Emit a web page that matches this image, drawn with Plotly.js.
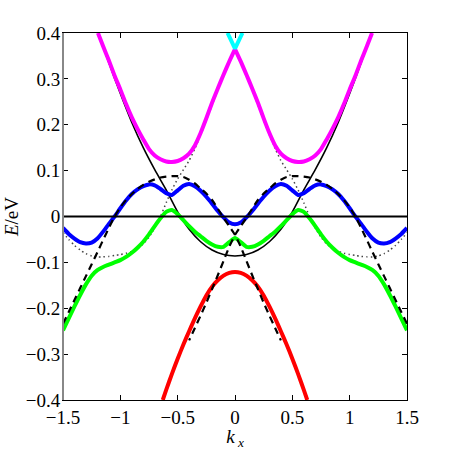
<!DOCTYPE html>
<html>
<head>
<meta charset="utf-8">
<script src="https://cdn.plot.ly/plotly-3.0.1.min.js"></script>
<style>html,body{margin:0;padding:0;background:#fff;}#chart{width:450px;height:450px;}</style>
</head>
<body>
<div id="chart"></div>
<script>
// k grid (kx) used by blue, green, dotted bands
var kGrid = [-1.5,-1.45,-1.4,-1.35,-1.3,-1.25,-1.2,-1.15,-1.1,-1.05,-1.0,-0.95,-0.9,-0.85,-0.8,-0.75,-0.7,-0.65,-0.6,-0.55,-0.5,-0.45,-0.4,-0.35,-0.3,-0.25,-0.2,-0.15,-0.1,-0.05,0,
  0.05,0.1,0.15,0.2,0.25,0.3,0.35,0.4,0.45,0.5,0.55,0.6,0.65,0.7,0.75,0.8,0.85,0.9,0.95,1.0,1.05,1.1,1.15,1.2,1.25,1.3,1.35,1.4,1.45,1.5];

var blueE = [-0.025,-0.038,-0.048,-0.056,-0.059,-0.057,-0.048,-0.033,-0.016,0.000,0.018,0.035,0.049,0.059,0.066,0.070,0.068,0.060,0.051,0.047,0.057,0.067,0.071,0.066,0.056,0.043,0.028,0.012,-0.002,-0.013,-0.017,
  -0.013,-0.002,0.012,0.028,0.043,0.056,0.066,0.071,0.067,0.057,0.047,0.051,0.060,0.068,0.070,0.066,0.059,0.049,0.035,0.018,0.000,-0.016,-0.033,-0.048,-0.057,-0.059,-0.056,-0.048,-0.038,-0.025];

var greenE = [-0.248,-0.222,-0.196,-0.171,-0.148,-0.129,-0.117,-0.110,-0.105,-0.100,-0.095,-0.088,-0.079,-0.068,-0.055,-0.039,-0.021,-0.004,0.010,0.014,0.005,-0.008,-0.021,-0.033,-0.043,-0.053,-0.061,-0.066,-0.066,-0.056,-0.047,
  -0.056,-0.066,-0.066,-0.061,-0.053,-0.043,-0.033,-0.021,-0.008,0.005,0.014,0.010,-0.004,-0.021,-0.039,-0.055,-0.068,-0.079,-0.088,-0.095,-0.100,-0.105,-0.110,-0.117,-0.129,-0.148,-0.171,-0.196,-0.222,-0.248];

var dottedE = [-0.035,-0.050,-0.063,-0.073,-0.081,-0.086,-0.088,-0.088,-0.087,-0.085,-0.083,-0.080,-0.076,-0.070,-0.060,-0.045,-0.025,0.000,0.030,0.058,0.082,0.102,0.122,0.148,0.178,0.210,0.243,0.276,0.308,0.337,0.365,
  0.337,0.308,0.276,0.243,0.210,0.178,0.148,0.122,0.102,0.082,0.058,0.030,0.000,-0.025,-0.045,-0.060,-0.070,-0.076,-0.080,-0.083,-0.085,-0.087,-0.088,-0.088,-0.086,-0.081,-0.073,-0.063,-0.050,-0.035];

// dashed bands (two mirror-image branches)
var dashAk = [-1.5,-1.45,-1.4,-1.35,-1.3,-1.25,-1.2,-1.15,-1.1,-1.05,-1.0,-0.95,-0.9,-0.85,-0.8,-0.75,-0.7,-0.65,-0.6,-0.55,-0.5,-0.45,-0.4,-0.35,-0.3,-0.25,-0.2,-0.15,-0.1,-0.05,0,0.05,0.1,0.15,0.2,0.25,0.3,0.35,0.4];
var dashAE = [-0.234,-0.208,-0.182,-0.156,-0.130,-0.104,-0.078,-0.051,-0.025,0.000,0.020,0.036,0.049,0.060,0.069,0.076,0.081,0.085,0.087,0.088,0.088,0.086,0.080,0.072,0.061,0.050,0.036,0.017,-0.003,-0.021,-0.040,-0.066,-0.097,-0.128,-0.158,-0.188,-0.216,-0.243,-0.270];
var dashBk = [1.5,1.45,1.4,1.35,1.3,1.25,1.2,1.15,1.1,1.05,1.0,0.95,0.9,0.85,0.8,0.75,0.7,0.65,0.6,0.55,0.5,0.45,0.4,0.35,0.3,0.25,0.2,0.15,0.1,0.05,0,-0.05,-0.1,-0.15,-0.2,-0.25,-0.3,-0.35,-0.4];
var dashBE = [-0.234,-0.208,-0.182,-0.156,-0.130,-0.104,-0.078,-0.051,-0.025,0.000,0.020,0.036,0.049,0.060,0.069,0.076,0.081,0.085,0.087,0.088,0.088,0.086,0.080,0.072,0.061,0.050,0.036,0.017,-0.003,-0.021,-0.040,-0.066,-0.097,-0.128,-0.158,-0.188,-0.216,-0.243,-0.270];

// black solid parabola-like band
var blackK = [-1.19,-1.1,-1.0,-0.9,-0.8,-0.7,-0.6,-0.5,-0.4,-0.3,-0.2,-0.1,0,0.1,0.2,0.3,0.4,0.5,0.6,0.7,0.8,0.9,1.0,1.1,1.19];
var blackE = [0.400,0.335,0.268,0.205,0.150,0.102,0.058,0.010,-0.028,-0.055,-0.073,-0.083,-0.086,-0.083,-0.073,-0.055,-0.028,0.010,0.058,0.102,0.150,0.205,0.268,0.335,0.400];

// red band
var redK = [-0.63,-0.6,-0.55,-0.5,-0.45,-0.4,-0.35,-0.3,-0.25,-0.2,-0.15,-0.1,-0.05,0,0.05,0.1,0.15,0.2,0.25,0.3,0.35,0.4,0.45,0.5,0.55,0.6,0.63];
var redE = [-0.400,-0.378,-0.343,-0.310,-0.279,-0.250,-0.222,-0.196,-0.172,-0.153,-0.139,-0.129,-0.123,-0.121,-0.123,-0.129,-0.139,-0.153,-0.172,-0.196,-0.222,-0.250,-0.279,-0.310,-0.343,-0.378,-0.400];

// magenta band (two halves meeting in a cusp at kx = 0)
var magLk = [-1.195,-1.15,-1.1,-1.05,-1.0,-0.95,-0.9,-0.85,-0.8,-0.75,-0.7,-0.65,-0.6,-0.55,-0.5,-0.45,-0.4,-0.35,-0.3,-0.25,-0.2,-0.15,-0.1,-0.05,0];
var magLE = [0.400,0.371,0.340,0.307,0.277,0.245,0.216,0.191,0.168,0.147,0.133,0.125,0.120,0.119,0.121,0.127,0.137,0.155,0.182,0.214,0.248,0.279,0.309,0.338,0.365];
var magRk = [0,0.05,0.1,0.15,0.2,0.25,0.3,0.35,0.4,0.45,0.5,0.55,0.6,0.65,0.7,0.75,0.8,0.85,0.9,0.95,1.0,1.05,1.1,1.15,1.195];
var magRE = [0.365,0.338,0.309,0.279,0.248,0.214,0.182,0.155,0.137,0.127,0.121,0.119,0.120,0.125,0.133,0.147,0.168,0.191,0.216,0.245,0.277,0.307,0.340,0.371,0.400];

// cyan band
var cyanK = [-0.065,0,0.065];
var cyanE = [0.400,0.366,0.400];

// Fermi level
var fermiK = [-1.5,1.5];
var fermiE = [0,0];

var xTickVals = [-1.5,-1,-0.5,0,0.5,1,1.5];
var xTickText = ['\u22121.5','\u22121','\u22120.5','0','0.5','1','1.5'];
var yTickVals = [-0.4,-0.3,-0.2,-0.1,0,0.1,0.2,0.3,0.4];
var yTickText = ['\u22120.4','\u22120.3','\u22120.2','\u22120.1','0','0.1','0.2','0.3','0.4'];

var sp = {shape:'spline', smoothing:0.6};
function ln(o){ return Object.assign({}, sp, o); }

var traces = [
  {x:kGrid, y:dottedE, mode:'lines', line:ln({color:'#444', width:1.5, dash:'1.5px,3px'}), hoverinfo:'skip'},
  {x:blackK, y:blackE, mode:'lines', line:ln({color:'#000', width:1.6}), hoverinfo:'skip'},
  {x:kGrid, y:blueE, mode:'lines', line:ln({color:'#0000ff', width:4}), hoverinfo:'skip'},
  {x:kGrid, y:greenE, mode:'lines', line:ln({color:'#00ff00', width:4}), hoverinfo:'skip'},
  {x:redK, y:redE, mode:'lines', line:ln({color:'#ff0000', width:4}), hoverinfo:'skip'},
  {x:magLk, y:magLE, mode:'lines', line:ln({color:'#ff00ff', width:4}), hoverinfo:'skip'},
  {x:magRk, y:magRE, mode:'lines', line:ln({color:'#ff00ff', width:4}), hoverinfo:'skip'},
  {x:cyanK, y:cyanE, mode:'lines', line:{color:'#00ffff', width:4}, hoverinfo:'skip'},
  {x:dashAk, y:dashAE, mode:'lines', line:ln({color:'#000', width:2.2, dash:'7px,5px'}), hoverinfo:'skip'},
  {x:dashBk, y:dashBE, mode:'lines', line:ln({color:'#000', width:2.2, dash:'7px,5px'}), hoverinfo:'skip'},
  {x:fermiK, y:fermiE, mode:'lines', line:{color:'#000', width:2}, hoverinfo:'skip'}
];

var fontFam = 'Liberation Serif, Times New Roman, serif';
var layout = {
  width:450, height:450,
  margin:{l:63, r:43, t:33, b:50},
  showlegend:false,
  paper_bgcolor:'#fff', plot_bgcolor:'#fff',
  font:{family:fontFam, size:19, color:'#000'},
  xaxis:{
    range:[-1.5,1.5], tickvals:xTickVals, ticktext:xTickText,
    ticks:'inside', ticklen:5, tickcolor:'#000', showline:true, linecolor:'#000', linewidth:1,
    mirror:'ticks', showgrid:false, zeroline:false, fixedrange:true,
    tickfont:{family:fontFam, size:19},
    title:{text:'<i>k</i><sub> <i>x</i></sub>', font:{family:fontFam, size:19}, standoff:0}
  },
  yaxis:{
    range:[-0.4,0.4], tickvals:yTickVals, ticktext:yTickText,
    ticks:'inside', ticklen:5, tickcolor:'#000', showline:true, linecolor:'#000', linewidth:1,
    mirror:'ticks', showgrid:false, zeroline:false, fixedrange:true,
    tickfont:{family:fontFam, size:19},
    ticklabelstandoff:-2,
    title:{text:'<i>E</i>/eV', font:{family:fontFam, size:19}, standoff:2}
  },
  shapes:[
    {type:'line', xref:'paper', yref:'paper', x0:0, x1:0, y0:0, y1:1, line:{color:'#888', width:2}}
  ]
};

Plotly.newPlot('chart', traces, layout, {staticPlot:true, displayModeBar:false});
</script>
</body>
</html>
